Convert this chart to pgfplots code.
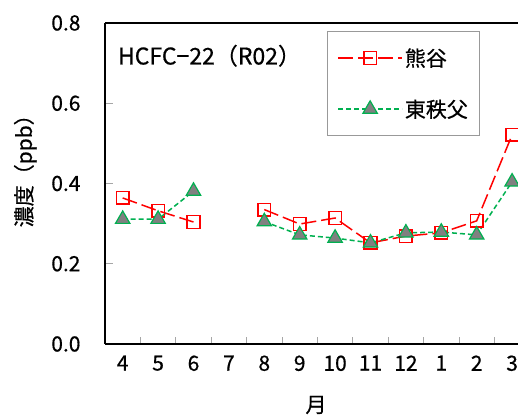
\documentclass[border=0pt]{standalone}
\usepackage{fontspec}
\setmainfont{Noto Sans CJK JP}[FakeBold=0.6]
\usepackage{pgfplots}
\pgfplotsset{compat=1.18}
\definecolor{kred}{RGB}{255,0,0}
\definecolor{cgreen}{RGB}{0,176,80}
\definecolor{mgray}{RGB}{128,128,128}
\newcommand{\bigf}{\fontsize{21pt}{25pt}\selectfont}
\begin{document}
\begin{tikzpicture}[font=\bigf]
\begin{axis}[
  scale only axis, width=413pt, height=321pt,
  xmin=-0.5, xmax=11.167, ymin=0, ymax=0.8,
  axis x line*=bottom, axis y line*=left,
  axis line style={line width=1.6pt, black},
  clip=false,
  xtick={0,...,11},
  xticklabels={4,5,6,7,8,9,10,11,12,1,2,3},
  major x tick style={draw=none},
  minor xtick={0.5,1.5,2.5,3.5,4.5,5.5,6.5,7.5,8.5,9.5,10.5},
  ytick={0,0.2,0.4,0.6,0.8},
  tick align=inside,
  tick style={color=gray!70, line width=0.8pt},
  major tick length=8pt, minor tick length=7pt,
  y tick label style={/pgf/number format/fixed, /pgf/number format/fixed zerofill, /pgf/number format/precision=1},
  /pgf/number format/assume math mode=true,
  tick label style={font=\bigf},
  xticklabel style={yshift=-8pt},
  yticklabel style={xshift=-21pt},
  xlabel={月}, ylabel={濃度（ppb）},
  xlabel style={at={(axis description cs:0.511,-0.19)}, anchor=center, font=\bigf},
  ylabel style={at={(axis description cs:-0.193,0.555)}, anchor=center, rotate=0, font=\bigf},
  legend cell align=left,
  legend image code/.code={\draw[mark repeat=2,mark phase=2,#1] plot coordinates {(0pt,0pt)(32pt,0pt)(64pt,0pt)};},
  legend style={at={(axis description cs:0.5375,0.975)}, anchor=north west,
    draw=gray!80, line width=0.8pt, font=\bigf, row sep=28pt,
    inner xsep=10pt, inner ysep=15pt},
]
\addplot[kred, line width=1.5pt, dash pattern=on 15pt off 5pt,
  mark=square, mark size=6.3pt, mark options={solid, fill=white, line width=1.5pt},
  unbounded coords=jump] coordinates {
  (0,0.364)(1,0.332)(2,0.304)(3,nan)(4,0.335)(5,0.299)(6,0.314)(7,0.252)(8,0.269)(9,0.277)(10,0.307)(11,0.521)};
\addlegendentry{熊谷}
\addplot[cgreen, line width=1.5pt, dash pattern=on 5pt off 3pt,
  mark=triangle*, mark size=8.3pt, mark options={solid, fill=mgray, draw=cgreen, line width=1.2pt},
  unbounded coords=jump] coordinates {
  (0,0.311)(1,0.311)(2,0.381)(3,nan)(4,0.305)(5,0.272)(6,0.264)(7,0.252)(8,0.277)(9,0.279)(10,0.272)(11,0.404)};
\addlegendentry{東秩父\hspace{17pt}}
\draw[line width=1.6pt] (rel axis cs:0,1) -- (rel axis cs:1,1);
\node[anchor=west, inner sep=0pt, font=\fontsize{23pt}{27pt}\selectfont] at (axis description cs:0.031,0.898) {HCFC−22（R02）};
\end{axis}
\pgfresetboundingbox
\path (current axis.south west) ++(-105pt,-75pt) coordinate (bbsw);
\path (current axis.north east) ++(0pt,23pt) coordinate (bbne);
\path (bbsw) rectangle (bbne);
\end{tikzpicture}
\end{document}
